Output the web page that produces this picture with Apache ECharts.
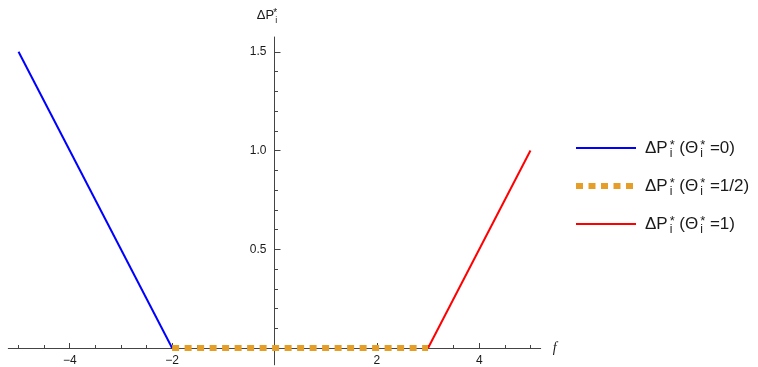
<!DOCTYPE html>
<html>
<head>
<meta charset="utf-8">
<script src="https://cdn.jsdelivr.net/npm/echarts@6/dist/echarts.min.js"></script>
<style>html,body{margin:0;padding:0;background:#fff}#c{width:758px;height:367px}</style>
</head>
<body>
<div id="c"></div>
<script>
// ---- data ----
const blueX = [-5, -2];
const blueY = [1.5, 0];
const orangeX = [-2, 3];
const orangeY = [0, 0];
const redX = [3, 5];
const redY = [0, 1];
const xMajorTicks = [-4, -2, 2, 4];
const xMinorTicks = [-5, -4.5, -3.5, -3, -2.5, -1.5, -1, -0.5, 0.5, 1, 1.5, 2.5, 3, 3.5, 4.5, 5];
const yMajorTicks = [0.5, 1.0, 1.5];
const yMinorTicks = [0.1, 0.2, 0.3, 0.4, 0.6, 0.7, 0.8, 0.9, 1.1, 1.2, 1.3, 1.4];
const seriesNames = ['Θ=0', 'Θ=1/2', 'Θ=1'];
const legendTexts = [
  'ΔP{su|*}{sb|i}(Θ{su|*}{sb|i}=0)',
  'ΔP{su|*}{sb|i}(Θ{su|*}{sb|i}=1/2)',
  'ΔP{su|*}{sb|i}(Θ{su|*}{sb|i}=1)'
];
const xMin = -5.2, xMax = 5.2, yMin = -0.085, yMax = 1.575;

const pairs = (xs, ys) => xs.map((x, i) => [x, ys[i]]);
const FONT = 'Liberation Sans, Arial, sans-serif';
const AX = '#444';
const W = 758, H = 367;
const G = {left: 8.3, right: 217.3, top: 37, bottom: 2.2};
const gw = W - G.left - G.right, gh = H - G.top - G.bottom;
const x0px = G.left + (0 - xMin) / (xMax - xMin) * gw;
const y0px = G.top + (yMax - 0) / (yMax - yMin) * gh;
const yAxisOffset = -(x0px - G.left);
const xAxisOffset = -((H - G.bottom) - y0px);

const chart = echarts.init(document.getElementById('c'), null, {renderer: 'canvas'});
const xCommon = {type: 'value', min: xMin, max: xMax, splitLine: {show: false}, position: 'bottom', offset: xAxisOffset};
const yCommon = {type: 'value', min: yMin, max: yMax, splitLine: {show: false}, position: 'left', offset: yAxisOffset};

const colors = ['#0000ff', '#e59f28', '#ff0000'];
const TXT = '#1a1a1a';
const legendRich = {
  su: {fontSize: 13, verticalAlign: 'top', width: 0, padding: [3, 0, 0, 2], fontFamily: FONT, color: TXT, lineHeight: 24},
  sb: {fontSize: 12, verticalAlign: 'bottom', padding: [0, 7, 0, 0], fontFamily: FONT, color: TXT, lineHeight: 24}
};
const legendRows = [148, 186, 224];
const graphics = [];
seriesNames.forEach((n, i) => {
  graphics.push({type: 'line', shape: {x1: 576, y1: legendRows[i], x2: 636, y2: legendRows[i]},
    style: i === 1 ? {stroke: colors[i], lineWidth: 6, lineDash: [7, 5.5], lineCap: 'butt'} : {stroke: colors[i], lineWidth: 2}});
  graphics.push({type: 'text', x: 645, y: legendRows[i], style: {text: legendTexts[i], font: '17px ' + FONT, fill: TXT,
    verticalAlign: 'middle', align: 'left', rich: legendRich}});
});

chart.setOption({
  animation: false,
  backgroundColor: '#fff',
  grid: Object.assign({outerBoundsMode: 'none'}, G),
  xAxis: [
    Object.assign({}, xCommon, {
      axisLine: {show: true, onZero: false, lineStyle: {color: AX, width: 1}},
      axisTick: {show: true, inside: true, length: 5, customValues: xMajorTicks, lineStyle: {color: AX}},
      axisLabel: {show: true, customValues: xMajorTicks, margin: 7, color: TXT, fontSize: 12, fontFamily: FONT,
        formatter: v => (v < 0 ? '\u2212' + Math.abs(v) : String(v))},
      name: 'f', nameLocation: 'end', nameGap: 12,
      nameTextStyle: {fontStyle: 'italic', fontSize: 14, color: TXT, fontFamily: 'Liberation Serif, serif', verticalAlign: 'middle'}
    }),
    Object.assign({}, xCommon, {
      axisLine: {show: false, onZero: false},
      axisTick: {show: true, inside: true, length: 3, customValues: xMinorTicks, lineStyle: {color: AX}},
      axisLabel: {show: false}
    })
  ],
  yAxis: [
    Object.assign({}, yCommon, {
      axisLine: {show: true, onZero: false, lineStyle: {color: AX, width: 1}},
      axisTick: {show: true, inside: true, length: 6, customValues: yMajorTicks, lineStyle: {color: AX}},
      axisLabel: {show: true, customValues: yMajorTicks, margin: 8, color: TXT, fontSize: 12, fontFamily: FONT,
        formatter: v => v.toFixed(1)},
      name: 'ΔP{su|*}{sb|i}', nameLocation: 'end', nameGap: 12,
      nameTextStyle: {fontSize: 13, color: TXT, fontFamily: FONT, padding: [0, 12, 0, 0],
        rich: {
          su: {fontSize: 10, verticalAlign: 'top', width: 0, padding: [2, 0, 0, 1], fontFamily: FONT, color: TXT, lineHeight: 19},
          sb: {fontSize: 9, verticalAlign: 'bottom', padding: [0, 3, 0, 0], fontFamily: FONT, color: TXT, lineHeight: 19}
        }}
    }),
    Object.assign({}, yCommon, {
      axisLine: {show: false, onZero: false},
      axisTick: {show: true, inside: true, length: 3.5, customValues: yMinorTicks, lineStyle: {color: AX}},
      axisLabel: {show: false}
    })
  ],
  graphic: graphics,
  series: [
    {name: seriesNames[0], type: 'line', data: pairs(blueX, blueY), showSymbol: false, symbol: 'none',
      lineStyle: {color: colors[0], width: 2}, itemStyle: {color: colors[0]}, z: 3},
    {name: seriesNames[1], type: 'line', data: pairs(orangeX, orangeY), showSymbol: false, symbol: 'none',
      lineStyle: {color: colors[1], width: 6, type: [7, 5.5], cap: 'butt'}, itemStyle: {color: colors[1]}, z: 4},
    {name: seriesNames[2], type: 'line', data: pairs(redX, redY), showSymbol: false, symbol: 'none',
      lineStyle: {color: colors[2], width: 2}, itemStyle: {color: colors[2]}, z: 3}
  ]
});
</script>
</body>
</html>
